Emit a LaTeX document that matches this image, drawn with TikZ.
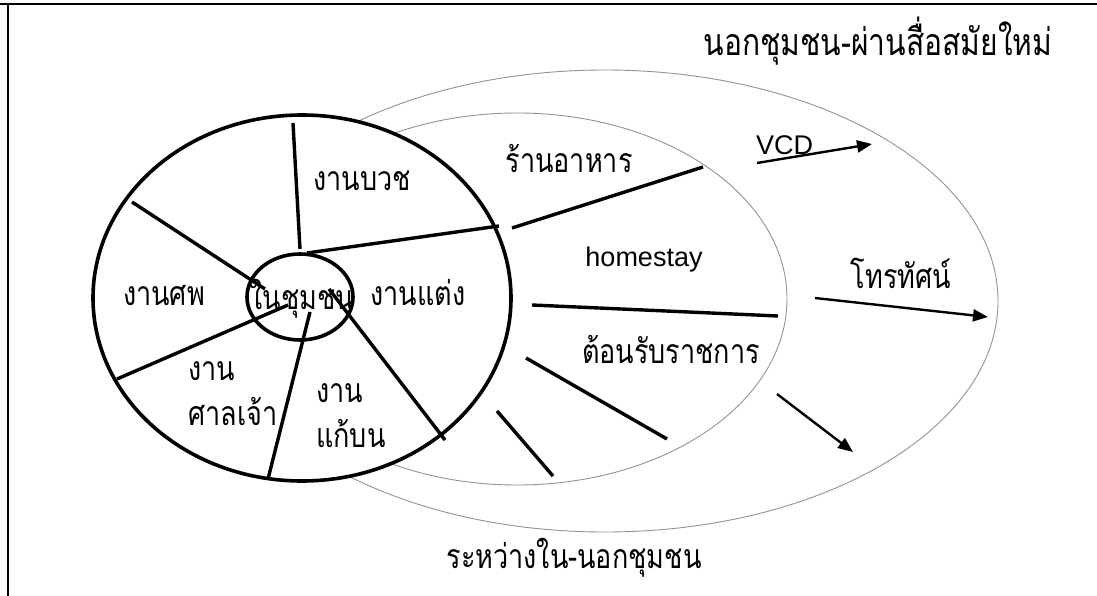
\documentclass[tikz,border=0pt]{standalone}
\usepackage{fontspec}
\setmainfont{Liberation Sans}
\newfontfamily\thai[Script=Thai]{Loma}
\usetikzlibrary{arrows.meta}
\newcommand{\tall}[1]{\scalebox{1}[1.25]{#1}}
\begin{document}
\begin{tikzpicture}[x=1pt,y=-1pt,
  spoke/.style={line width=3.4pt},
  thin ell/.style={draw=gray!85, line width=0.9pt},
  arr/.style={line width=2.4pt,-{Triangle[length=15pt,width=12pt]}},
  th/.style={font=\thai\fontsize{27}{40}\selectfont, inner sep=0pt, anchor=base},
  lat/.style={font=\fontsize{27}{32}\selectfont, inner sep=0pt, anchor=base}]
\useasboundingbox (0,0) rectangle (1097,596);
\fill[white] (0,0) rectangle (1097,596);
% frame
\draw[line width=2.6pt] (0,4) -- (1097,4);
\draw[line width=2.6pt] (8,3) -- (8,596);
% ellipses
\draw[thin ell] (605,301) ellipse [x radius=393pt, y radius=231pt];
\draw[thin ell] (517,299) ellipse [x radius=270pt, y radius=186pt];
\draw[line width=3.6pt, fill=white] (302,298) ellipse [x radius=209pt, y radius=183pt];
\draw[line width=3.6pt] (300,297) ellipse [x radius=53pt, y radius=43pt];
% spokes inside big circle
\draw[spoke] (293,123) -- (300,249);
\draw[spoke] (307,253) -- (499,226);
\draw[spoke] (132,202) -- (265,289);
\draw[spoke] (117,379) -- (288,305);
\draw[spoke] (268,479) -- (310,312);
\draw[spoke] (329,289) -- (445,440);
% spokes in middle ring
\draw[spoke] (512,228) -- (703,167);
\draw[spoke] (532,305) -- (778,316);
\draw[spoke] (526,358) -- (667,439);
\draw[spoke] (497,411) -- (553,476);
% arrows
\coordinate (v1) at (757,163); \coordinate (v2) at (872,144);
\coordinate (t1) at (815,298); \coordinate (t2) at (988,317);
\coordinate (a1) at (777,394); \coordinate (a2) at (853,452);
\draw[arr] (v1) -- (v2);
\draw[arr] (t1) -- (t2);
\draw[arr] (a1) -- (a2);
% texts
\node[th, font=\thai\fontsize{30}{40}\selectfont] (title) at (878,56) {\tall{นอกชุมชน-ผ่านสื่อสมัยใหม่}};
\node[th] (bottom) at (574,568) {\tall{ระหว่างใน-นอกชุมชน}};
\node[th] (buat) at (362,190) {\tall{งานบวช}};
\node[th] (sop) at (164,305) {\tall{งานศพ}};
\node[th] (nai) at (302,309) {\tall{ในชุมชน}};
\node[th] (taeng) at (418,305) {\tall{งานแต่ง}};
\node[th, anchor=base west] (s1) at (188,380) {\tall{งาน}};
\node[th, anchor=base west] (s2) at (188,425) {\tall{ศาลเจ้า}};
\node[th, anchor=base west] (k1) at (316,402) {\tall{งาน}};
\node[th, anchor=base west] (k2) at (316,447) {\tall{แก้บน}};
\node[th] (raan) at (569,173) {\tall{ร้านอาหาร}};
\node[lat] (home) at (644,266) {homestay};
\node[th] (ton) at (671,363) {\tall{ต้อนรับราชการ}};
\node[lat, anchor=base west] (vcd) at (756,155) {VCD};
\node[th] (tv) at (901,288) {\tall{โทรทัศน์}};
\end{tikzpicture}
\end{document}
